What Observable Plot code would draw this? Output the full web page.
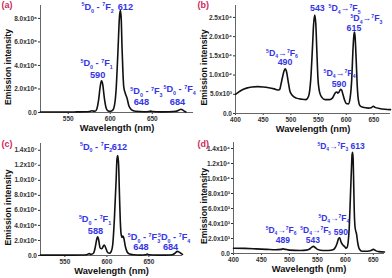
<!DOCTYPE html>
<html><head><meta charset="utf-8">
<script src="https://cdn.jsdelivr.net/npm/d3@7"></script>
<script src="https://cdn.jsdelivr.net/npm/@observablehq/plot@0.6"></script>
<style>
body{margin:0;background:#fff;}
#wrap{position:relative;width:392px;height:278px;overflow:hidden;background:#fff;}
.panel{position:absolute;width:196px;height:139px;}
</style></head><body><div id="wrap"></div>
<script>
// ---------- Panel (a) : intensity in units of 10^6 ----------
const waveA = [517,530,540,550,560,570,575,578,580,582,584,586,588,589.5,591,593,595,597,600,603,605,607,609,611,612,613,614,615,616,618,620,622,625,630,640,646,648,650,660,670,678,682,684,686,688,690];
const intA  = [0.04,0.04,0.04,0.04,0.05,0.06,0.08,0.15,0.12,0.1,0.3,1.0,2.2,2.7,2.4,1.2,0.4,0.15,0.1,0.2,0.6,2.0,5.0,8.2,8.7,8.0,5.5,3.5,2.2,1.6,1.2,0.6,0.25,0.1,0.06,0.08,0.12,0.08,0.05,0.06,0.1,0.22,0.28,0.22,0.12,0.05];
const xTicksA = [550,600,650];
const yTicksA = [0,2,4,6,8];
const yTickLabelsA = ["0.0","2.0x10⁶","4.0x10⁶","6.0x10⁶","8.0x10⁶"];
const annTextA = ["⁵D₀ - ⁷F₂","612","⁵D₀ - ⁷F₁","590","⁵D₀ - ⁷F₃","648","⁵D₀ - ⁷F₄","684"];
const annXA = [584.9,618,583.7,585,643,637,682.5,680];
const annYA = [8.94,8.94,4.17,3.15,1.79,0.85,1.96,0.85];

// ---------- Panel (b) : intensity in units of 10^3 ----------
const waveB = [400,405,410,420,430,440,450,460,470,478,480,482,485,488,490,492,495,498,502,510,520,527,532,536,539,541,543,545,547,549,552,556,562,570,575,578,581,583,585,587,590,592,594,597,600,604,607,610,612,614,615,616,618,620,622,625,630,640,645,649,652,660,670,680];
const intB  = [5.0,5.5,6.0,6.6,6.9,7.0,6.9,6.7,6.4,6.1,6.3,7.5,9.5,11.2,11.6,11.0,8.5,6.0,4.8,4.0,3.7,3.6,4.5,9,17,23,25.6,23.5,16,9,5.5,4.2,3.6,3.6,4.0,4.8,5.5,5.6,5.3,5.6,6.3,6.0,5.0,3.5,2.6,2.5,4,9,16,20.5,21.2,20,14,7,3.5,2.0,1.6,1.4,1.5,1.9,1.6,1.3,1.1,1.0];
const xTicksB = [400,450,500,550,600,650];
const yTicksB = [0,5,10,15,20,25];
const yTickLabelsB = ["0.0","5.0x10³","1.0x10⁴","1.5x10⁴","2.0x10⁴","2.5x10⁴"];
const annTextB = ["543","⁵D₄→⁷F₅","⁵D₄→⁷F₃","615","⁵D₄→⁷F₆","490","⁵D₄→⁷F₄","590"];
const annXB = [548,597,636.5,614,484,489.4,588,587];
const annYB = [27.3,27.3,24.7,22.1,15.6,13.3,10.4,7.55];

// ---------- Panel (c) : intensity in units of 10^6 ----------
const waveC = [521,540,560,570,576,579,581,584,586,588,589,590,592,594,596,597,599,601,603,605,607,609,611,612,613,614,615,616,617,618,619,620,622,624,627,632,640,646,648,650,660,670,678,681,684,686,688,690];
const intC  = [0.05,0.05,0.05,0.06,0.1,0.25,0.15,0.3,1.0,2.2,2.5,2.2,1.0,0.9,1.3,1.4,0.9,0.4,0.3,0.5,1.5,5,10,12.8,13.3,12,8,4.5,2.8,2.4,2.6,2.4,1.2,0.5,0.2,0.1,0.05,0.1,0.2,0.1,0.05,0.05,0.1,0.3,0.55,0.45,0.3,0.15];
const xTicksC = [550,600,650];
const yTicksC = [0,2,4,6,8,10,12,14];
const yTickLabelsC = ["0.0","2.0x10⁶","4.0x10⁶","6.0x10⁶","8.0x10⁶","1.0x10⁷","1.2x10⁷","1.4x10⁷"];
const annTextC = ["⁵D₀ - ⁷F₂","612","⁵D₀ - ⁷F₁","588","⁵D₀ - ⁷F₃","648","⁵D₀ - ⁷F₄","684"];
const annXC = [587.2,615,585.9,586.5,644.2,640.6,680,675.8];
const annYC = [14.4,14.4,4.8,3.2,2.4,1.07,2.4,1.07];

// ---------- Panel (d) : intensity in units of 10^3 ----------
const waveD = [400,420,440,460,475,485,489,493,500,520,530,536,540,543,546,550,560,570,578,582,585,588,590,592,594,596,599,601,603,605,607,609,611,612,613,614,615,616,617,618,620,622,625,630,640,646,650,655,660,670];
const intD  = [0.7,0.68,0.62,0.55,0.5,0.55,0.62,0.55,0.45,0.4,0.45,0.6,0.85,0.95,0.8,0.55,0.4,0.4,0.5,0.8,1.3,2.0,2.1,1.6,1.3,1.1,0.9,0.7,0.8,1.5,3.5,7.5,11.5,13.2,13.5,12.5,9,5.5,3.8,3.2,2.6,1.5,0.6,0.3,0.3,0.4,0.55,0.35,0.25,0.2];
const xTicksD = [400,450,500,550,600,650];
const yTicksD = [0,2,4,6,8,10,12,14];
const yTickLabelsD = ["0.0","2.0x10³","4.0x10³","6.0x10³","8.0x10³","1.0x10⁴","1.2x10⁴","1.4x10⁴"];
const annTextD = ["⁵D₄→⁷F₃","613","⁵D₄→⁷F₄","590","⁵D₄→⁷F₅","543","⁵D₄→⁷F₆","489"];
const annXD = [577.7,622,579.5,592,547,542,485,488.4];
const annYD = [14.27,14.27,4.67,2.8,3.07,1.73,3.07,1.73];

const panelLetters = ["(a)","(b)","(c)","(d)"];
const yTitle = "Emission intensity";
const xTitle = "Wavelength (nm)";

const FONT = "'Liberation Sans', Arial, sans-serif";
const BLUE = "#3434e6";
const RED = "#cc2b5e";

const SUP = "⁰¹²³⁴⁵⁶⁷⁸⁹", SUB = "₀₁₂₃₄₅₆₇₈₉";

// rebuild a text element so Unicode super/subscript digits become small shifted tspans
function scriptify(textEl, size) {
  const s = textEl.textContent;
  const runs = [];
  for (const ch of s) {
    let type = "n", c = ch;
    if (SUP.includes(ch)) { type = "sup"; c = String(SUP.indexOf(ch)); }
    else if (SUB.includes(ch)) { type = "sub"; c = String(SUB.indexOf(ch)); }
    if (runs.length && runs[runs.length - 1].type === type) runs[runs.length - 1].t += c;
    else runs.push({type, t: c});
  }
  while (textEl.firstChild) textEl.removeChild(textEl.firstChild);
  let cur = 0;
  for (const r of runs) {
    const target = r.type === "sup" ? -0.42 * size : r.type === "sub" ? 0.24 * size : 0;
    const ts = document.createElementNS("http://www.w3.org/2000/svg", "tspan");
    if (r.type !== "n") ts.setAttribute("font-size", (0.58 * size) + "px");
    if (target !== cur) ts.setAttribute("dy", (target - cur) + "px");
    cur = target;
    ts.textContent = r.t;
    textEl.appendChild(ts);
  }
}

function panel(cfg) {
  const idx = d3.range(cfg.wave.length);
  const aidx = d3.range(cfg.annText.length);
  const svg = Plot.plot({
    width: 196, height: 139,
    marginLeft: cfg.ml, marginRight: cfg.mr, marginTop: cfg.mt, marginBottom: cfg.mb,
    style: {fontFamily: FONT, fontSize: "6.5px", fontWeight: "bold", color: "#333", background: "transparent", overflow: "visible"},
    x: {domain: cfg.xDomain, ticks: cfg.xTicks, tickSize: 2, tickPadding: 2, label: null, tickFormat: d => String(d)},
    y: {domain: cfg.yDomain, ticks: cfg.yTicks, tickSize: 2, tickPadding: 1.5, label: null,
        tickFormat: d => cfg.yLabels[cfg.yTicks.indexOf(d)]},
    marks: [
      Plot.ruleY([cfg.yDomain[0]], {stroke: "#666", strokeWidth: 1}),
      Plot.ruleX([cfg.xDomain[0]], {stroke: "#666", strokeWidth: 1}),
      Plot.line(idx, {x: i => cfg.wave[i], y: i => cfg.val[i], stroke: "#111", strokeWidth: 1.6, curve: "monotone-x"}),
      Plot.text(aidx, {x: i => cfg.annX[i], y: i => cfg.annY[i], text: i => cfg.annText[i],
        fill: BLUE, fontSize: cfg.annSize, fontWeight: "bold", fontFamily: FONT}),
      Plot.text([cfg.letter], {frameAnchor: "top-left", dx: -cfg.ml + 1, dy: 1 - cfg.mt, textAnchor: "start", lineAnchor: "top",
        fill: RED, fontSize: 9, fontWeight: "bold"}),
      Plot.text([yTitle], {frameAnchor: "left", textAnchor: "middle", lineAnchor: "middle", dx: 8 - cfg.ml, dy: 8, rotate: -90,
        fill: "#111", fontSize: 8.6, fontWeight: "bold"}),
      Plot.text([xTitle], {frameAnchor: "bottom", textAnchor: "middle", lineAnchor: "middle", dy: 15.5,
        fill: "#111", fontSize: 9.3, fontWeight: "bold"})
    ]
  });
  const annSet = new Set(cfg.annText);
  d3.select(svg).selectAll("text").each(function() {
    if (annSet.has(this.textContent) && /[⁰-⁹₀-₉]/.test(this.textContent)) scriptify(this, cfg.annSize);
  });
  return svg;
}

const cfgs = [
  {letter: panelLetters[0], wave: waveA, val: intA, xDomain: [517, 699], yDomain: [0, 9.1], xTicks: xTicksA, yTicks: yTicksA, yLabels: yTickLabelsA,
   annText: annTextA, annX: annXA, annY: annYA, annSize: 9.2, ml: 40, mr: 3, mt: 5, mb: 27, left: 0, top: 0},
  {letter: panelLetters[1], wave: waveB, val: intB, xDomain: [400, 680], yDomain: [0, 28.1], xTicks: xTicksB, yTicks: yTicksB, yLabels: yTickLabelsB,
   annText: annTextB, annX: annXB, annY: annYB, annSize: 8.8, ml: 39, mr: 2, mt: 5, mb: 26, left: 196, top: 0},
  {letter: panelLetters[2], wave: waveC, val: intC, xDomain: [521, 690], yDomain: [0, 14.9], xTicks: xTicksC, yTicks: yTicksC, yLabels: yTickLabelsC,
   annText: annTextC, annX: annXC, annY: annYC, annSize: 9.2, ml: 40, mr: 14, mt: 4, mb: 23, left: 0, top: 139},
  {letter: panelLetters[3], wave: waveD, val: intD, xDomain: [400, 670], yDomain: [0, 14.8], xTicks: xTicksD, yTicks: yTicksD, yLabels: yTickLabelsD,
   annText: annTextD, annX: annXD, annY: annYD, annSize: 8.5, ml: 37, mr: 8, mt: 3, mb: 25, left: 196, top: 139}
];

const wrap = document.getElementById("wrap");
for (const c of cfgs) {
  const div = document.createElement("div");
  div.className = "panel";
  div.style.left = c.left + "px";
  div.style.top = c.top + "px";
  div.appendChild(panel(c));
  wrap.appendChild(div);
}
</script>
</body></html>
